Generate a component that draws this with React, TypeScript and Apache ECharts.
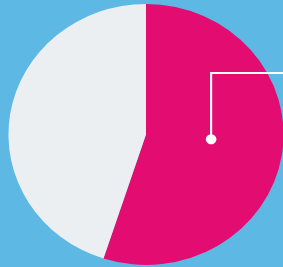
import React, { useEffect, useRef } from "react";
import * as echarts from "echarts";

const categories = ["Pink share", "Grey share"];
const values = [55, 45];
const sliceColors = ["#E30D72", "#ECEFF1"];

const BG = "#5DB8E4";
const W = 283;
const H = 267;
const CX = 146;
const CY = 134.5;
const R = 130.5;
const STRETCH_X = 1.054;

export default function App() {
  const ref = useRef<HTMLDivElement>(null);

  useEffect(() => {
    document.body.style.margin = "0";
    document.body.style.background = BG;
    if (!ref.current) return;
    const chart = echarts.init(ref.current, undefined, { renderer: "svg" });

    // annotation anchor inside the first slice
    const anchorAngle = (4.5 * Math.PI) / 180;
    const anchorR = 0.475 * R;
    const dotX = CX + anchorR * Math.cos(anchorAngle);
    const dotY = CY + anchorR * Math.sin(anchorAngle);
    const lineTop = CY - 0.471 * R;

    chart.setOption({
      animation: false,
      backgroundColor: BG,
      series: [
        {
          type: "pie",
          center: [CX, CY],
          radius: [0, R],
          startAngle: 90,
          clockwise: true,
          label: { show: false },
          labelLine: { show: false },
          emphasis: { disabled: true },
          itemStyle: { borderWidth: 0 },
          data: categories.map((name, i) => ({
            name,
            value: values[i],
            itemStyle: { color: sliceColors[i] },
          })),
        },
      ],
      graphic: [
        {
          type: "polyline",
          shape: {
            points: [
              [dotX, dotY],
              [dotX, lineTop],
              [W + 20, lineTop],
            ],
          },
          style: { stroke: "#FFFFFF", lineWidth: 2, fill: "none" },
          z: 10,
        },
        {
          type: "circle",
          shape: { cx: dotX, cy: dotY, r: 5 },
          style: { fill: "#FFFFFF" },
          z: 11,
        },
      ],
    });
    return () => chart.dispose();
  }, []);

  return (
    <div
      style={{
        position: "fixed",
        left: 0,
        top: 0,
        width: W,
        height: H,
        overflow: "hidden",
        background: BG,
      }}
    >
      <div
        ref={ref}
        style={{
          width: W,
          height: H,
          transform: `scaleX(${STRETCH_X})`,
          transformOrigin: `${CX}px 50%`,
        }}
      />
    </div>
  );
}
